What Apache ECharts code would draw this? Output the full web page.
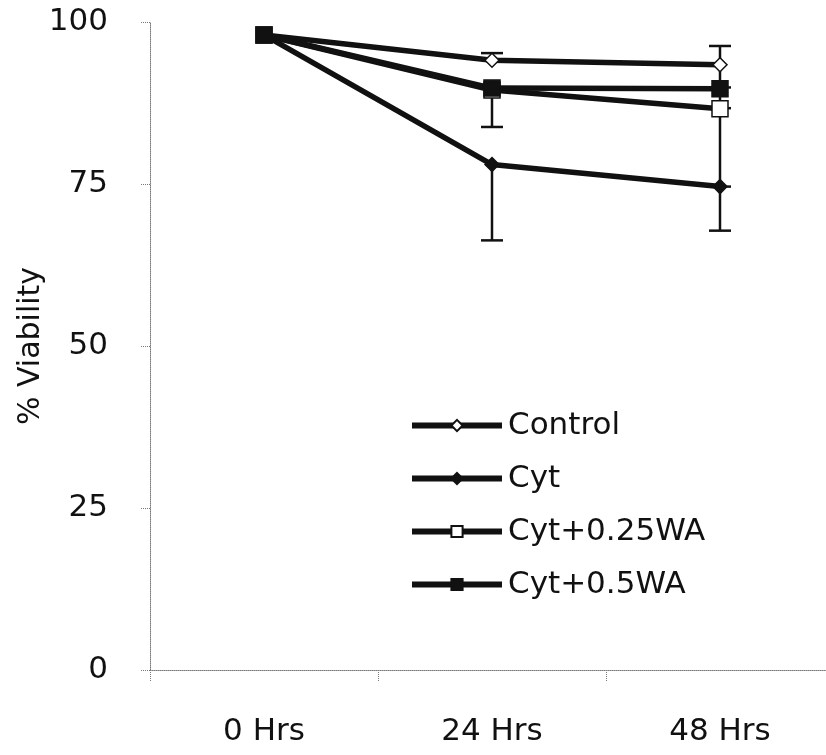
<!DOCTYPE html>
<html>
<head>
<meta charset="utf-8">
<script src="https://cdn.jsdelivr.net/npm/echarts@6/dist/echarts.min.js"></script>
<style>
  html, body { margin: 0; padding: 0; background: #fff; }
  #chart { width: 826px; height: 755px; }
</style>
</head>
<body>
<div id="chart"></div>
<script>
// Time points and y-axis ticks
const timePoints = ['0 Hrs', '24 Hrs', '48 Hrs'];
const yTicks = [0, 25, 50, 75, 100];

// Mean % viability per group
const controlMean = [98, 94.1, 93.4];
const cytMean = [98, 78.0, 74.6];
const cyt025Mean = [98, 89.5, 86.6];
const cyt05Mean = [98, 89.8, 89.7];

// Error bar extents above / below each mean
const controlErrUp = [0, 1.1, 2.9];
const controlErrDown = [0, 0, 3.5];
const cytErrUp = [0, 0, 0];
const cytErrDown = [0, 11.7, 6.8];
const cyt025ErrUp = [0, 0, 0];
const cyt025ErrDown = [0, 0, 12.0];
const cyt05ErrUp = [0, 0, 0];
const cyt05ErrDown = [0, 6.0, 3.0];

const groupNames = ['Control', 'Cyt', 'Cyt+0.25WA', 'Cyt+0.5WA'];

const FONT = 'DejaVu Sans';
const INK = '#111';

function errorSeries(means, up, down) {
  return {
    type: 'custom',
    z: 1,
    silent: true,
    data: means.map((m, i) => [i, m, up[i], down[i]]),
    renderItem: function (params, api) {
      const idx = api.value(0);
      const mean = api.value(1);
      const eu = api.value(2);
      const ed = api.value(3);
      const half = 11;
      const style = { stroke: INK, lineWidth: 2.5 };
      const children = [];
      const mid = api.coord([idx, mean]);
      if (eu > 0) {
        const top = api.coord([idx, mean + eu]);
        children.push({ type: 'line', shape: { x1: mid[0], y1: mid[1], x2: top[0], y2: top[1] }, style: style });
        children.push({ type: 'line', shape: { x1: top[0] - half, y1: top[1], x2: top[0] + half, y2: top[1] }, style: style });
      }
      if (ed > 0) {
        const bot = api.coord([idx, mean - ed]);
        children.push({ type: 'line', shape: { x1: mid[0], y1: mid[1], x2: bot[0], y2: bot[1] }, style: style });
        children.push({ type: 'line', shape: { x1: bot[0] - half, y1: bot[1], x2: bot[0] + half, y2: bot[1] }, style: style });
      }
      return { type: 'group', children: children };
    }
  };
}

function lineSeries(name, data, symbol, size, fill) {
  return {
    name: name,
    type: 'line',
    z: 3,
    data: data,
    symbol: symbol,
    symbolSize: size,
    showAllSymbol: true,
    lineStyle: { color: INK, width: 5.5 },
    itemStyle: { color: fill, borderColor: INK, borderWidth: 1.5 },
    emphasis: { disabled: true }
  };
}

const chart = echarts.init(document.getElementById('chart'), null, { renderer: 'canvas' });

chart.setOption({
  backgroundColor: '#fff',
  animation: false,
  grid: { left: 150, width: 684, top: 22, bottom: 85, containLabel: false, outerBoundsMode: 'none' },
  legend: {
    orient: 'vertical',
    left: 409,
    top: 410,
    padding: 0,
    itemWidth: 90,
    itemHeight: 14,
    itemGap: 22,
    data: groupNames,
    lineStyle: { color: INK, width: 6 },
    textStyle: { fontFamily: FONT, fontSize: 31, color: INK, padding: [0, 0, 0, 1] }
  },
  xAxis: {
    type: 'category',
    data: timePoints,
    boundaryGap: true,
    axisLine: { lineStyle: { color: '#777', width: 1, type: 'dotted' } },
    axisTick: { show: true, alignWithLabel: false, length: 12, lineStyle: { color: '#777', type: 'dotted' } },
    axisLabel: { fontFamily: FONT, fontSize: 31, color: INK, margin: 46 },
    splitLine: { show: false }
  },
  yAxis: {
    type: 'value',
    min: yTicks[0],
    max: yTicks[yTicks.length - 1],
    interval: 25,
    name: '% Viability',
    nameLocation: 'middle',
    nameGap: 104,
    nameMoveOverlap: false,
    nameRotate: 90,
    nameTextStyle: { fontFamily: FONT, fontSize: 30, color: INK },
    axisLine: { show: true, lineStyle: { color: '#777', width: 1, type: 'dotted' } },
    axisTick: { show: true, length: 10, lineStyle: { color: '#777', type: 'dotted' } },
    axisLabel: { fontFamily: FONT, fontSize: 31, color: INK, margin: 42 },
    splitLine: { show: false }
  },
  series: [
    errorSeries(controlMean, controlErrUp, controlErrDown),
    errorSeries(cytMean, cytErrUp, cytErrDown),
    errorSeries(cyt025Mean, cyt025ErrUp, cyt025ErrDown),
    errorSeries(cyt05Mean, cyt05ErrUp, cyt05ErrDown),
    lineSeries(groupNames[0], controlMean, 'diamond', 14, '#fff'),
    lineSeries(groupNames[1], cytMean, 'diamond', 14, INK),
    lineSeries(groupNames[2], cyt025Mean, 'rect', 16, '#fff'),
    lineSeries(groupNames[3], cyt05Mean, 'rect', 16, INK)
  ]
});
</script>
</body>
</html>
